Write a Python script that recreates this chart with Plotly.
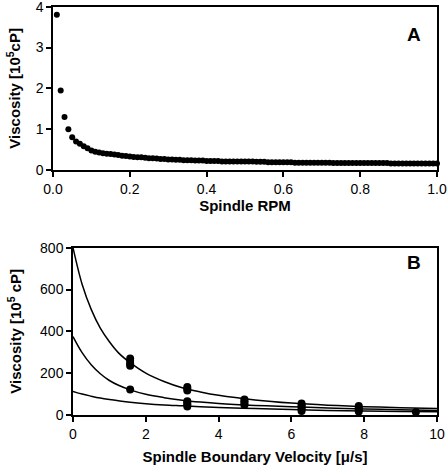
import plotly.graph_objects as go

# ---------------- Panel A data ----------------
rpm = [round(0.01 * i, 2) for i in range(1, 101)]
visc_a = [
    3.80, 1.95, 1.30, 1.00, 0.80, 0.70, 0.64, 0.58, 0.53, 0.48,
    0.45, 0.43, 0.41, 0.40, 0.39, 0.38, 0.37, 0.35, 0.34, 0.33,
    0.32, 0.31, 0.31, 0.30, 0.29, 0.29, 0.28, 0.27, 0.27, 0.26,
    0.26, 0.25, 0.25, 0.24, 0.24, 0.24, 0.23, 0.23, 0.23, 0.22,
    0.22, 0.22, 0.22, 0.21, 0.21, 0.21, 0.21, 0.21, 0.21, 0.21,
    0.21, 0.21, 0.20, 0.20, 0.20, 0.19, 0.19, 0.19, 0.19, 0.19,
    0.19, 0.19, 0.18, 0.18, 0.18, 0.18, 0.18, 0.18, 0.18, 0.18,
    0.18, 0.18, 0.17, 0.17, 0.17, 0.17, 0.17, 0.17, 0.17, 0.17,
    0.17, 0.17, 0.17, 0.17, 0.17, 0.17, 0.17, 0.16, 0.16, 0.16,
    0.16, 0.16, 0.16, 0.16, 0.16, 0.16, 0.16, 0.16, 0.16, 0.16,
]

# ---------------- Panel B data ----------------
vel_pts = [1.57, 1.57, 1.57, 1.57, 1.57,
           3.14, 3.14, 3.14, 3.14, 3.14, 3.14, 3.14,
           4.71, 4.71, 4.71, 4.71,
           6.28, 6.28, 6.28, 6.28, 6.28,
           7.85, 7.85, 7.85, 7.85,
           9.42]
visc_pts = [235, 245, 258, 270, 122,
            117, 125, 134, 41, 50, 58, 66,
            48, 57, 66, 74,
            19, 28, 37, 46, 55,
            17, 26, 35, 43,
            14]

vel_fit = [0, 0.25, 0.5, 0.75, 1.0, 1.25, 1.57, 2.0, 2.5, 3.0, 3.5, 4.0, 5.0, 6.0, 7.0, 8.0, 9.0, 10.0]
fit_1 = [800, 625, 505, 415, 350, 297, 250, 200, 160, 130, 110, 94, 72, 57, 47, 40, 35, 31]
fit_2 = [375, 298, 240, 197, 165, 142, 120, 99, 83, 71, 62, 55, 46, 40, 34, 29, 25, 22]
fit_3 = [113, 100, 90, 81, 74, 68, 61, 54, 48, 44, 40, 36, 31, 26, 22, 19, 17, 15]

W, H = 448, 468
FONT = "Arial, Liberation Sans, sans-serif"

fig = go.Figure()
fig.add_trace(go.Scatter(x=rpm, y=visc_a, mode="markers", xaxis="x", yaxis="y",
                         marker=dict(color="black", size=6), cliponaxis=False, showlegend=False))
for f in (fit_1, fit_2, fit_3):
    fig.add_trace(go.Scatter(x=vel_fit, y=f, mode="lines", xaxis="x2", yaxis="y2",
                             line=dict(color="black", width=1.5, shape="spline", smoothing=1.0),
                             showlegend=False))
fig.add_trace(go.Scatter(x=vel_pts, y=visc_pts, mode="markers", xaxis="x2", yaxis="y2",
                         marker=dict(color="black", size=8), cliponaxis=False, showlegend=False))

def px(x):
    return x / W

def py(y):
    return 1 - y / H

ax_common = dict(showline=True, linecolor="black", linewidth=1.5, mirror=True,
                 ticks="outside", ticklen=5, tickwidth=1.5, tickcolor="black",
                 showgrid=False, zeroline=False, automargin=False, ticklabeloverflow="allow",
                 tickfont=dict(family=FONT, size=14, color="black"))
title_font = dict(family=FONT, size=15, color="black")

fig.update_layout(
    width=W, height=H,
    margin=dict(l=0, r=0, t=0, b=0),
    paper_bgcolor="white", plot_bgcolor="white",
    xaxis=dict(domain=[px(53), px(437)], range=[0, 1], tickvals=[0, 0.2, 0.4, 0.6, 0.8, 1.0],
               ticktext=["0.0", "0.2", "0.4", "0.6", "0.8", "1.0"], anchor="y",
               title=dict(text="<b>Spindle RPM</b>", font=title_font, standoff=5), **ax_common),
    yaxis=dict(domain=[py(170), py(6.7)], range=[0, 4], tickvals=[0, 1, 2, 3, 4], anchor="x",
               title=dict(text="<b>Viscosity [10<sup>5</sup>cP]</b>", font=title_font, standoff=11),
               **ax_common),
    xaxis2=dict(domain=[px(73), px(437)], range=[0, 10], tickvals=[0, 2, 4, 6, 8, 10], anchor="y2",
                title=dict(text="<b>Spindle Boundary Velocity [μ/s]</b>", font=title_font, standoff=11),
                **ax_common),
    yaxis2=dict(domain=[py(415), py(247.7)], range=[0, 800], tickvals=[0, 200, 400, 600, 800],
                anchor="x2",
                title=dict(text="<b>Viscosity [10<sup>5</sup> cP]</b>", font=title_font, standoff=15),
                **ax_common),
    annotations=[
        dict(text="<b>A</b>", x=px(423), y=py(22), xref="paper", yref="paper", showarrow=False,
             font=dict(family=FONT, size=19, color="black")),
        dict(text="<b>B</b>", x=px(423), y=py(262), xref="paper", yref="paper", showarrow=False,
             font=dict(family=FONT, size=19, color="black")),
    ],
)

fig.write_html("out.html", config={"displayModeBar": False},
               post_script="document.body.style.margin='0';document.body.style.overflow='hidden';")
